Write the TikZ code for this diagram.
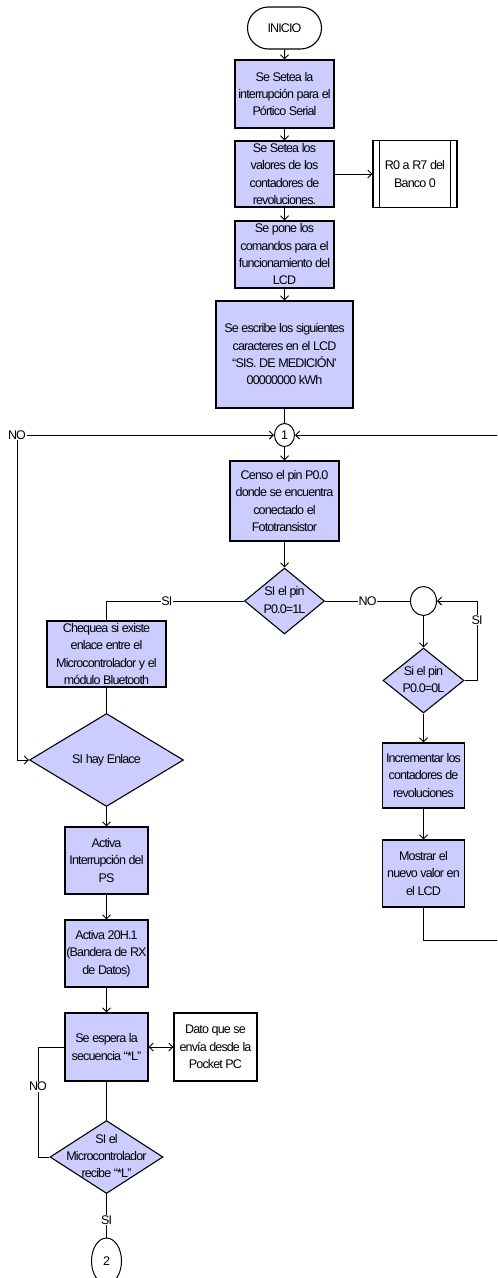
\documentclass[tikz,border=0pt]{standalone}
\usepackage{fontspec}
\setmainfont{Liberation Sans}[LetterSpace=-7]
\usetikzlibrary{arrows.meta,shapes.geometric,shapes.misc}
\newlength\px
\setlength\px{0.75pt}
\definecolor{boxfill}{RGB}{204,204,255}
% text of a decision: centred, taking no room, so the diamond keeps its given size
\newcommand\dtext[1]{\smash{\raisebox{-0.25em}{\makebox[0pt]{\begin{tabular}{@{}c@{}}#1\end{tabular}}}}}
\tikzset{
  every node/.style={font=\fontsize{9.4}{13}\selectfont},
  sz/.style 2 args={minimum width=#1\px, minimum height=#2\px},
  pbox/.style={draw, line width=1.1\px, fill=boxfill, inner sep=0pt, align=center},
  wbox/.style={pbox, fill=white},
  term/.style={rounded rectangle, draw, line width=1.1\px, fill=white, inner sep=0pt},
  dia/.style={diamond, draw, line width=1.1\px, fill=boxfill, inner sep=0pt},
  conn/.style={ellipse, draw, line width=1\px, fill=white, inner sep=0pt},
  lbl/.style={fill=white, inner sep=0.6\px},
  line/.style={line width=1\px},
  arr/.style={line, -{Straight Barb[length=3pt,width=6pt]}},
  darr/.style={line, {Straight Barb[length=3pt,width=6pt]}-{Straight Barb[length=3pt,width=6pt]}},
}
\begin{document}
\begin{tikzpicture}[x=1\px, y=-1\px]
\useasboundingbox (0,0) rectangle (497,1278);
\clip (0,0) rectangle (497,1278);

% main column
\node[term, sz={74}{42}] (inicio) at (284.5,28) {INICIO};
\node[pbox, sz={99}{68}] (b1) at (284.5,94) {Se Setea la\\interrupción para el\\Pórtico Serial};
\node[pbox, sz={99}{66}] (b2) at (284.5,174) {Se Setea los\\valores de los\\contadores de\\revoluciones.};
\node[wbox, sz={84}{67}] (r0) at (415,174) {R0 a R7 del\\Banco 0};
\draw[line] ([xshift=7\px]r0.north west) -- ([xshift=7\px]r0.south west);
\draw[line] ([xshift=-7\px]r0.north east) -- ([xshift=-7\px]r0.south east);
\node[pbox, sz={99}{67}] (b3) at (284.5,254.5) {Se pone los\\comandos para el\\funcionamiento del\\LCD};
\node[pbox, sz={137}{107}] (b4) at (284.5,354.5) {Se escribe los siguientes\\caracteres en el LCD\\“SIS. DE MEDICIÓN’\\00000000 kWh};
\node[conn, sz={20}{23}] (c1) at (284.5,435) {1};
\node[pbox, sz={109}{80}] (b5) at (284.5,501) {Censo el pin P0.0\\donde se encuentra\\conectado el\\Fototransistor};
\node[dia, sz={80}{66}] (d1) at (284.5,601) {\dtext{SI el pin\\P0.0=1L}};

% left branch
\node[pbox, sz={119}{66}] (b6) at (106.5,654) {Chequea si existe\\enlace entre el\\Microcontrolador y el\\módulo Bluetooth};
\node[dia, sz={154}{93}] (d2) at (106.5,760) {\dtext{SI hay Enlace}};
\node[pbox, sz={83}{67}] (b7) at (106.5,860.5) {Activa\\Interrupción del\\PS};
\node[pbox, sz={83}{67}] (b8) at (106.5,953.5) {Activa 20H.1\\(Bandera de RX\\de Datos)};
\node[pbox, sz={83}{68}] (b9) at (106.5,1047) {Se espera la\\secuencia “*L”};
\node[wbox, sz={83}{68}] (dato) at (215.5,1047) {Dato que se\\envía desde la\\Pocket PC};
\node[dia, sz={113}{73}] (d3) at (106.5,1157) {\dtext{SI el\\Microcontrolador\\recibe “*L”}};
\node[conn, sz={30}{46}] (c2) at (106.5,1261) {2};

% right branch
\node[conn, sz={26}{29}] (cr) at (423.5,601) {};
\node[dia, sz={81}{65}] (d4) at (423.5,680.5) {\dtext{Si el pin\\P0.0=0L}};
\node[pbox, sz={82}{65}] (b10) at (423.5,775.5) {Incrementar los\\contadores de\\revoluciones};
\node[pbox, sz={82}{67}] (b11) at (423.5,873.5) {Mostrar el\\nuevo valor en\\el LCD};

\coordinate (lx) at (17,0);
\coordinate (lx2) at (38,0);
\coordinate (rx) at (477,0);
\coordinate (edgeT) at (497,435);
\coordinate (edgeB) at (497,940);

% connectors, main column
\draw[arr] (inicio) -- (b1);
\draw[arr] (b1) -- (b2);
\draw[arr] (b2.east) -- (r0.west);
\draw[arr] (b2) -- (b3);
\draw[arr] (b3) -- (b4);
\draw[line] (b4) -- (c1);
\draw[arr] (c1) -- (b5);
\draw[arr] (b5) -- (d1);

% left branch
\draw[line] (d1.west) -- node[lbl, pos=0.56] (lsi1) {SI} (b6.north |- d1.west) -- (b6.north);
\draw[line] (b6) -- (d2);
\draw[darr] (d2.west) -- (lx |- d2.west) -- (lx |- c1.west) -- (c1.west);
\node[lbl] (lno1) at (lx |- c1.west) {NO};
\draw[arr] (d2) -- (b7);
\draw[arr] (b7) -- (b8);
\draw[arr] (b8) -- (b9);
\draw[darr] (b9.east) -- (dato.west);
\draw[line] (b9) -- (d3);
\draw[line] (d3.west) -- (lx2 |- d3.west) -- node[lbl, pos=0.64] (lno2) {NO} (lx2 |- b9.west) -- (b9.west);
\draw[line] (d3) -- node[lbl, pos=0.6] (lsi2) {SI} (c2);

% right branch
\draw[line] (d1.east) -- node[lbl, pos=0.5] (lno3) {NO} (cr.west);
\draw[arr] (cr) -- (d4);
\draw[arr] (d4.east) -- (rx |- d4.east) -- node[lbl, pos=0.76] (lsi3) {SI} (rx |- cr.east) -- (cr.east);
\draw[arr] (d4) -- (b10);
\draw[arr] (b10) -- (b11);
\draw[line] (b11) -- (b11 |- edgeB) -- (edgeB);
\draw[arr] (edgeT) -- (c1.east);
\end{tikzpicture}
\end{document}
